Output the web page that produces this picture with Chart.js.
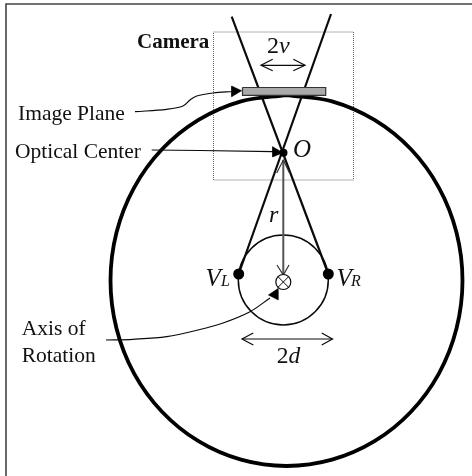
<!DOCTYPE html>
<html>
<head>
<meta charset="utf-8">
<style>html,body{margin:0;padding:0;background:#fff;overflow:hidden}canvas{display:block}</style>
<script src="https://cdn.jsdelivr.net/npm/chart.js@4"></script>
</head>
<body>
<canvas id="c" width="472" height="476"></canvas>
<script>
const frameEdge = [[6,476],[6,4],[472,4]];
const cameraBox = [[213.5,32],[353.5,32],[353.5,180],[213.5,180],[213.5,32]];
const bigCircle = [[286.5,95],[332,101.3],[374.5,119.9],[411,149.3],[439,187.8],[456.5,232.5],[462.5,280.5],[456.5,328.5],[439,373.3],[411,411.7],[374.5,441.2],[332,459.7],[286.5,466],[241,459.7],[198.5,441.2],[162,411.7],[134,373.3],[116.5,328.5],[110.5,280.5],[116.5,232.5],[134,187.8],[162,149.3],[198.5,119.9],[241,101.3],[286.5,95]];
const smallCircleCentre = [[283.3,280]];
const axisCentre = [[283.3,282]];
const axisCrossA = [[278,276.7],[288.6,287.3]];
const axisCrossB = [[288.6,276.7],[278,287.3]];
const rayA = [[231.7,16.7],[328.3,274]];
const rayB = [[331,14],[238.7,274]];
const imagePlane = [[242.5,87.5],[325.7,87.5],[325.7,95.3],[242.5,95.3],[242.5,87.5]];
const rLine = [[283.3,160],[283.3,275]];
const rHeadTop = [[276.7,173],[283.3,160],[289.5,173]];
const rHeadBottom = [[277,265],[283.3,275],[289,265]];
const vLine = [[261,65.3],[305,65.3]];
const vHeadLeft = [[272.7,59.3],[261,65.3],[272.7,70.7]];
const vHeadRight = [[293.3,59.3],[305,65.3],[293.3,70.7]];
const dLine = [[242,339],[332.5,339]];
const dHeadLeft = [[253.3,333],[242,339],[253.3,345]];
const dHeadRight = [[321.7,333],[332.5,339],[321.7,345]];
const imageLeader = [[135,111.7],[166.7,109.3],[183,106],[190,100],[196.7,96],[213,93],[233,91.5]];
const imageArrow = [[241.7,90.7],[231.7,86],[231.7,96.7],[241.7,90.7]];
const opticalLeader = [[151.7,150],[200,150.5],[273,151.7]];
const opticalArrow = [[283,152.7],[272.7,146.7],[272.7,157],[283,152.7]];
const axisLeader = [[106,340],[133,339.3],[166.7,336.7],[200,329.5],[223,323],[250,311.7],[270,298]];
const axisArrow = [[278.3,288.3],[268.3,295],[278.3,300],[278.3,288.3]];
const opticalDot = [[283.5,152.7]];
const viewDots = [[238.7,274],[328.3,274]];
const labelTexts = ["Camera","Image Plane","Optical Center","Axis of","Rotation","O","r","2","v","V","L","V","R","2","d"];
const labelAnchors = [[137,48],[18,120],[15,158],[21.7,335],[21.7,361.7],[293,156.7],[269,221.7],[267,53.3],[279,53.3],[205.5,286],[221,286],[336.5,286],[351,286],[276.7,362.7],[288.5,362.7]];
const labelFonts = ["bold 21px","21.5px","21.5px","21.5px","21.5px","italic 25px","italic 24px","24px","italic 24px","italic 25px","italic 16px","italic 25px","italic 16px","23.5px","italic 23.5px"];

function path(data, width, color, extra) {
  return Object.assign({data, showLine:true, borderColor:color, borderWidth:width, pointRadius:0, fill:false, tension:0, borderCapStyle:'butt', borderJoinStyle:'miter'}, extra||{});
}
function shape(data, fillColor, width, color) {
  return path(data, width, color, {fill:'shape', backgroundColor:fillColor});
}
function dots(data, radius, fillColor, width, color) {
  return {data, showLine:false, pointRadius:radius, pointBackgroundColor:fillColor, pointBorderColor:color, pointBorderWidth:width};
}
const ink = '#0a0a0a';
const textPlugin = {
  id:'diagramText',
  afterDatasetsDraw(chart){
    const ctx = chart.ctx, sx = chart.scales.x, sy = chart.scales.y;
    ctx.save();
    ctx.fillStyle = '#111';
    ctx.textBaseline = 'alphabetic';
    labelTexts.forEach((t,i)=>{
      ctx.font = labelFonts[i] + ' "Liberation Serif"';
      ctx.fillText(t, sx.getPixelForValue(labelAnchors[i][0]), sy.getPixelForValue(labelAnchors[i][1]));
    });
    ctx.restore();
  }
};
// Chart.js paints the first dataset last, so the list is reversed to paint in reading order.
const paintOrder = [
    path(frameEdge,1.6,'#444'),
    path(cameraBox,1,'#666',{borderDash:[1,1]}),
    path(bigCircle,3.8,'#000',{tension:0.33}),
    path(rayA,2.2,ink),
    path(rayB,2.2,ink),
    shape(imagePlane,'#aaaaaa',1.2,'#333'),
    dots(smallCircleCentre,45,'rgba(0,0,0,0)',1.5,ink),
    path(rLine,2,'#555'),
    path(rHeadTop,1.2,'#333'),
    path(rHeadBottom,1.2,'#333'),
    dots(axisCentre,7.5,'#fff',1.2,ink),
    path(axisCrossA,1,ink),
    path(axisCrossB,1,ink),
    path(vLine,1.2,ink),
    path(vHeadLeft,1.2,ink),
    path(vHeadRight,1.2,ink),
    path(dLine,1.2,ink),
    path(dHeadLeft,1.2,ink),
    path(dHeadRight,1.2,ink),
    path(imageLeader,1.2,ink,{tension:0.35}),
    shape(imageArrow,'#000',0.5,'#000'),
    path(opticalLeader,1.2,ink),
    shape(opticalArrow,'#000',0.5,'#000'),
    path(axisLeader,1.2,ink,{tension:0.35}),
    shape(axisArrow,'#000',0.5,'#000'),
    dots(opticalDot,4,'#000',0,'#000'),
    dots(viewDots,5.5,'#000',0,'#000')
];
new Chart(document.getElementById('c'), {
  type:'scatter',
  data:{datasets:paintOrder.slice().reverse()},
  options:{
    responsive:false,
    animation:false,
    events:[],
    layout:{padding:0,autoPadding:false},
    plugins:{legend:{display:false},tooltip:{enabled:false},title:{display:false}},
    scales:{
      x:{type:'linear',min:0,max:472,display:false},
      y:{type:'linear',min:0,max:476,reverse:true,display:false}
    }
  },
  plugins:[textPlugin]
});
</script>
</body>
</html>
